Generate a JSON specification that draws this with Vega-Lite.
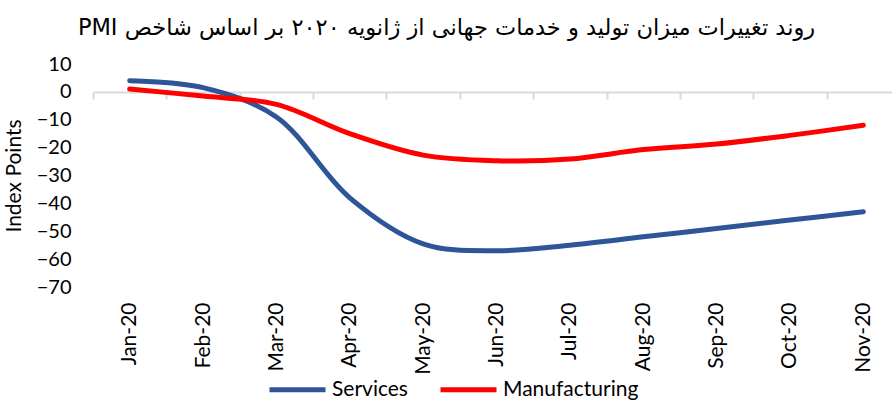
{
  "$schema": "https://vega.github.io/schema/vega-lite/v6.json",
  "autosize": "none",
  "width": 807,
  "height": 223,
  "padding": {"left": 93, "top": 64, "right": 0, "bottom": 113},
  "background": "white",
  "title": {
    "text": "\u202bروند تغییرات میزان  تولید و خدمات جهانی از ژانویه ۲۰۲۰ بر اساس شاخص PMI\u202c",
    "anchor": "middle",
    "frame": "group",
    "dx": -50,
    "offset": 15,
    "font": "DejaVu Sans",
    "fontSize": 22.5,
    "fontWeight": "normal",
    "color": "black"
  },
  "data": {
    "values": [
      {"month": "Jan-20", "series": "Services", "value": 4},
      {"month": "Feb-20", "series": "Services", "value": 1.5},
      {"month": "Mar-20", "series": "Services", "value": -9},
      {"month": "Apr-20", "series": "Services", "value": -38},
      {"month": "May-20", "series": "Services", "value": -54.5},
      {"month": "Jun-20", "series": "Services", "value": -57},
      {"month": "Jul-20", "series": "Services", "value": -55},
      {"month": "Aug-20", "series": "Services", "value": -52},
      {"month": "Sep-20", "series": "Services", "value": -49},
      {"month": "Oct-20", "series": "Services", "value": -46},
      {"month": "Nov-20", "series": "Services", "value": -43},
      {"month": "Jan-20", "series": "Manufacturing", "value": 1},
      {"month": "Feb-20", "series": "Manufacturing", "value": -1.5},
      {"month": "Mar-20", "series": "Manufacturing", "value": -4.5},
      {"month": "Apr-20", "series": "Manufacturing", "value": -15},
      {"month": "May-20", "series": "Manufacturing", "value": -22.7},
      {"month": "Jun-20", "series": "Manufacturing", "value": -24.7},
      {"month": "Jul-20", "series": "Manufacturing", "value": -24.1},
      {"month": "Aug-20", "series": "Manufacturing", "value": -20.7},
      {"month": "Sep-20", "series": "Manufacturing", "value": -18.7},
      {"month": "Oct-20", "series": "Manufacturing", "value": -15.6},
      {"month": "Nov-20", "series": "Manufacturing", "value": -12}
    ]
  },
  "mark": {"type": "line", "strokeWidth": 5, "interpolate": "catmull-rom", "strokeCap": "round"},
  "encoding": {
    "x": {
      "field": "month",
      "type": "ordinal",
      "sort": null,
      "scale": {"type": "band", "paddingInner": 0, "paddingOuter": 0},
      "axis": {
        "orient": "bottom",
        "offset": -195,
        "title": null,
        "domain": true,
        "domainColor": "#D9D9D9",
        "domainWidth": 2,
        "ticks": true,
        "tickBand": "extent",
        "tickColor": "#D9D9D9",
        "tickWidth": 2,
        "tickSize": 7,
        "grid": false,
        "labelAngle": -90,
        "labelPadding": 203,
        "labelFont": "Lato",
        "labelFontSize": 21,
        "labelColor": "black"
      }
    },
    "y": {
      "field": "value",
      "type": "quantitative",
      "scale": {"domain": [-70, 10], "nice": false, "zero": false},
      "axis": {
        "values": [-70, -60, -50, -40, -30, -20, -10, 0, 10],
        "domain": false,
        "ticks": false,
        "grid": false,
        "labelPadding": 22,
        "labelFont": "Lato",
        "labelFontSize": 20,
        "labelColor": "black",
        "title": "Index Points",
        "titleFont": "Lato",
        "titleFontSize": 21,
        "titleFontWeight": "normal",
        "titleColor": "black",
        "titlePadding": 12
      }
    },
    "color": {
      "field": "series",
      "type": "nominal",
      "scale": {"domain": ["Services", "Manufacturing"], "range": ["#2E5597", "#FF0000"]},
      "legend": {
        "orient": "none",
        "direction": "horizontal",
        "legendX": 174,
        "legendY": 295,
        "title": null,
        "symbolType": "stroke",
        "symbolSize": 3136,
        "symbolStrokeWidth": 5,
        "labelFont": "Lato",
        "labelFontSize": 21,
        "labelColor": "black",
        "labelOffset": 4,
        "columnPadding": 22
      }
    }
  },
  "config": {"view": {"stroke": null}}
}
